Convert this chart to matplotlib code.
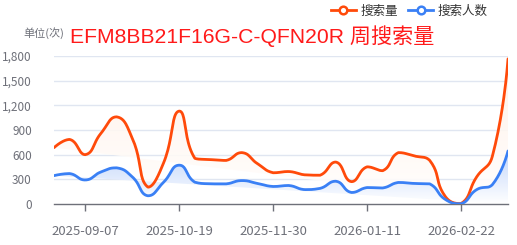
import numpy as np
import matplotlib
matplotlib.use("Agg")
import matplotlib.pyplot as plt
from matplotlib.colors import LinearSegmentedColormap
from matplotlib.patches import PathPatch
from matplotlib.path import Path
from matplotlib.lines import Line2D
import datetime as dt

plt.rcParams['font.family'] = ['Noto Sans CJK SC', 'DejaVu Sans']

# ---- data ----
start = dt.date(2025, 8, 24)
dates = [(start + dt.timedelta(weeks=i)).strftime('%Y-%m-%d') for i in range(30)]
search_volume = [685, 785, 600, 860, 1060, 800, 205, 500, 1130, 555,
                 540, 530, 625, 490, 380, 395, 355, 350, 510, 272,
                 452, 405, 625, 585, 530, 90, 5, 330, 580, 1765]
search_users = [345, 370, 292, 390, 440, 330, 100, 265, 472, 265,
                245, 245, 285, 250, 213, 225, 175, 190, 277, 140,
                200, 195, 262, 250, 245, 55, 3, 175, 235, 645]
series_names = ['搜索量', '搜索人数']
series_colors = ['#ff4a0a', '#3a80f5']
y_ticks = [0, 300, 600, 900, 1200, 1500, 1800]
title = 'EFM8BB21F16G-C-QFN20R 周搜索量'
unit_label = '单位(次)'

W, H = 517, 245
fig = plt.figure(figsize=(W / 100, H / 100), dpi=100)
L, R, B, T = 54, 508, 204, 56
ax = fig.add_axes([L / W, 1 - B / H, (R - L) / W, (B - T) / H])
ax.set_xlim(0, len(dates) - 1)
ax.set_ylim(0, 1800)

x = np.arange(len(dates))
sx = (R - L) / (len(dates) - 1)
sy = (B - T) / 1800.0


def smooth_curve(xs, ys, smooth=0.5, n=24):
    px = np.asarray(xs, float) * sx
    py = np.asarray(ys, float) * sy
    pts = np.column_stack([px, py])
    m = len(pts)
    cps = []
    for i in range(m):
        p = pts[i]
        if i == 0 or i == m - 1:
            cps.append((p, p))
            continue
        prev, nxt = pts[i - 1], pts[i + 1]
        v = nxt - prev
        d0 = np.linalg.norm(p - prev)
        d1 = np.linalg.norm(nxt - p)
        tot = d0 + d1 if d0 + d1 > 0 else 1
        c0 = p - v * smooth * d0 / tot
        c1 = p + v * smooth * d1 / tot
        lo0, hi0 = min(prev[1], p[1]), max(prev[1], p[1])
        lo1, hi1 = min(nxt[1], p[1]), max(nxt[1], p[1])
        c0[1] = np.clip(c0[1], lo0, hi0)
        c1[1] = np.clip(c1[1], lo1, hi1)
        cps.append((c0, c1))
    out = []
    t = np.linspace(0, 1, n)[:, None]
    for i in range(m - 1):
        p0 = pts[i]
        p3 = pts[i + 1]
        p1 = cps[i][1]
        p2 = cps[i + 1][0]
        seg = ((1 - t) ** 3) * p0 + 3 * ((1 - t) ** 2) * t * p1 + 3 * (1 - t) * t ** 2 * p2 + t ** 3 * p3
        out.append(seg if i == 0 else seg[1:])
    out = np.vstack(out)
    return out[:, 0] / sx, out[:, 1] / sy


for yv in y_ticks[1:]:
    ax.axhline(yv, color='#e0e6f1', lw=1, zorder=0)

fills = [
    ('#fff1e6', 0.9),
    ('#c2d6fb', 1.0),
]
ymax_series = [max(search_volume), max(search_users)]
for k, (vals, color) in enumerate(zip([search_volume, search_users], series_colors)):
    cx, cy = smooth_curve(x, vals)
    top_col, alpha = fills[k]
    cmap = LinearSegmentedColormap.from_list('g%d' % k, ['#ffffff', top_col])
    top = ymax_series[k]
    grad = np.linspace(0, 1, 256)[:, None]
    im = ax.imshow(grad, aspect='auto', cmap=cmap, origin='lower',
                   extent=[0, len(dates) - 1, 0, top], zorder=1 + k, alpha=alpha)
    verts = np.vstack([np.column_stack([cx, cy]), [[cx[-1], 0], [cx[0], 0]]])
    clip = PathPatch(Path(verts, closed=True), transform=ax.transData, facecolor='none', edgecolor='none')
    ax.add_patch(clip)
    im.set_clip_path(clip)
    ax.plot(cx, cy, color=color, lw=2, zorder=5, solid_capstyle='round')

ax.set_ylim(0, 1800)
ax.set_xlim(0, len(dates) - 1)

for s in ['top', 'right', 'left']:
    ax.spines[s].set_visible(False)
ax.spines['bottom'].set_color('#6e7079')
ax.spines['bottom'].set_linewidth(1)
ax.set_yticks(y_ticks)
ax.set_yticklabels([f'{v:,}' for v in y_ticks])
ax.tick_params(axis='y', length=0, pad=16, labelsize=8.5, labelcolor='#6e7079')
tick_idx = list(range(2, len(dates), 6))
ax.set_xticks(tick_idx)
ax.set_xticklabels([dates[i] for i in tick_idx])
ax.tick_params(axis='x', length=5, width=1, color='#6e7079', pad=10,
               labelsize=9.5, labelcolor='#6e7079')

fig.text(70 / W, 1 - 36 / H, title, color='#ff1a1a', fontsize=15.2, va='center', ha='left',
         family=['Liberation Sans', 'Noto Sans CJK SC'])
fig.text(44 / W, 1 - 33 / H, unit_label, color='#6e7079', fontsize=8, va='center', ha='center')

handles = [Line2D([0], [0], color=c, lw=2, marker='o', markersize=5.5,
                  markerfacecolor='white', markeredgewidth=1.8, markeredgecolor=c)
           for c in series_colors]
leg = fig.legend(handles, series_names, loc='center right', bbox_to_anchor=(488 / W, 1 - 11 / H),
                 ncol=2, frameon=False, fontsize=9, handlelength=2.0, handletextpad=0.4,
                 columnspacing=0.8, borderaxespad=0, borderpad=0)
for t in leg.get_texts():
    t.set_color('#333333')

fig.savefig('out.png', dpi=100)
